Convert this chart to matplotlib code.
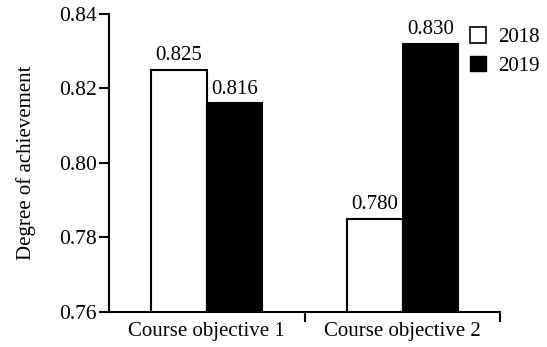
import matplotlib.pyplot as plt
import numpy as np
from matplotlib.patches import Patch

plt.rcParams['font.family'] = ['Liberation Serif', 'DejaVu Serif']

categories = ["Course objective 1", "Course objective 2"]
years = ["2018", "2019"]
vals_2018 = [0.825, 0.785]
vals_2019 = [0.816, 0.832]
labels_2018 = ["0.825", "0.780"]
labels_2019 = ["0.816", "0.830"]

fig = plt.figure(figsize=(5.47, 3.47), dpi=100)
ax = fig.add_axes([0.1993, 0.1009, 0.7155, 0.8588])

x = np.arange(len(categories))
w = 0.284
b1 = ax.bar(x - w / 2, vals_2018, w, color="white", edgecolor="black", linewidth=1.5)
b2 = ax.bar(x + w / 2, vals_2019, w, color="black", edgecolor="black", linewidth=1.5)

# value labels above bars
for rect, lab in zip(b1, labels_2018):
    ax.text(rect.get_x() + rect.get_width() / 2, rect.get_height() + 0.0012, lab,
            ha="center", va="bottom", fontsize=15)
for rect, lab in zip(b2, labels_2019):
    ax.text(rect.get_x() + rect.get_width() / 2, rect.get_height() + 0.0012, lab,
            ha="center", va="bottom", fontsize=15)

ax.set_xlim(-0.5, 1.5)
ax.set_ylim(0.76, 0.84)
ax.set_yticks([0.76, 0.78, 0.80, 0.82, 0.84])
ax.set_yticklabels(["0.76", "0.78", "0.80", "0.82", "0.84"], fontsize=15.5)
ax.set_xticks(x)
ax.set_xticklabels(categories, fontsize=15)
ax.tick_params(axis="x", length=0, pad=7)
ax.set_xticks([0.5, 1.5], minor=True)
ax.tick_params(axis="x", which="minor", length=7, width=1.5, direction="out")
ax.tick_params(axis="y", length=7, width=1.5, direction="out", pad=2)
ax.set_ylabel("Degree of achievement", fontsize=15, labelpad=16)

for s in ["top", "right"]:
    ax.spines[s].set_visible(False)
for s in ["left", "bottom"]:
    ax.spines[s].set_linewidth(1.5)

handles = [Patch(facecolor="white", edgecolor="black", linewidth=1.2),
           Patch(facecolor="black", edgecolor="black")]
fig.legend(handles, years, loc="upper left", bbox_to_anchor=(0.844, 0.945),
           frameon=False, fontsize=15, handlelength=0.75, handleheight=0.75,
           handletextpad=0.6, labelspacing=0.4, borderaxespad=0)

fig.savefig("out.png", dpi=100)
